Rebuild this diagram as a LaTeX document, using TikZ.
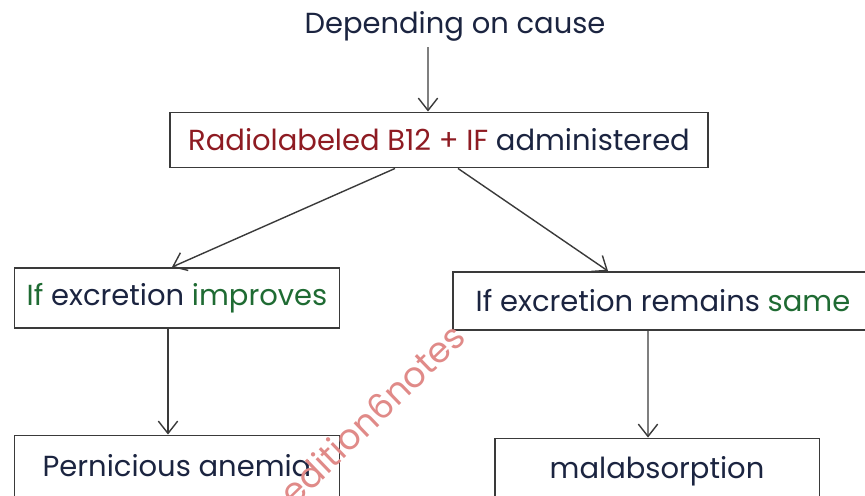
\documentclass[tikz,border=0pt]{standalone}
\usepackage{fontspec}
\setmainfont{Poppins}
\usetikzlibrary{arrows.meta}

\definecolor{ink}{HTML}{1B2440}
\definecolor{redink}{HTML}{8E1B22}
\definecolor{greenink}{HTML}{1F6B33}
\definecolor{boxline}{HTML}{3A3A3A}
\definecolor{stamp}{HTML}{E08A88}

\tikzset{
	box/.style={ draw=boxline, line width=1.1pt, text=ink, inner sep=0pt, font=\fontsize{16.5}{19}\selectfont },
	arr/.style={ draw=boxline, line width=0.8pt, -{Straight Barb[length=7pt,width=11pt]} }
}

\begin{document}
\begin{tikzpicture}[ x=0.02cm, y=-0.02cm ]

	\useasboundingbox (0, 0) rectangle (865, 495);
	\clip (0, 0) rectangle (865, 495);
	
	\node[ text=ink, font=\fontsize{16.5}{19}\selectfont ] (cause) at (455, 26) {Depending on cause};
	
	\node[ box, minimum width=10.76cm, minimum height=1.1cm ] (given) at (439, 140)
		{\textcolor{redink}{Radiolabeled B12 + IF} administered};
	
	\node[ box, minimum width=6.5cm, minimum height=1.2cm ] (improves) at (177, 298)
		{\textcolor{greenink}{If} excretion \textcolor{greenink}{improves}};
	\node[ box, minimum width=8.4cm, minimum height=1.16cm ] (same) at (663, 301)
		{If excretion remains \textcolor{greenink}{same}};
	
	\node[ box, minimum width=6.5cm, minimum height=1.3cm ] (pa) at (177, 468)
		{\raisebox{3pt}{Pernicious anemia}};
	\node[ box, minimum width=6.5cm, minimum height=1.3cm ] (malabs) at (657, 471)
		{\raisebox{3pt}{malabsorption}};
	
	\draw[ arr ] ([xshift=-0.54cm]cause.south) -- ([xshift=-0.22cm]given.north);
	\draw[ arr ] ([xshift=-0.88cm]given.south) -- ([xshift=-0.1cm]improves.north);
	\draw[ arr ] ([xshift=0.38cm]given.south) -- ([xshift=-1.1cm]same.north);
	\draw[ arr ] ([xshift=-0.18cm]improves.south) -- ([xshift=-0.18cm]pa.north);
	\draw[ arr ] ([xshift=-0.3cm]same.south) -- ([xshift=-0.18cm]malabs.north);
	
	% stamp across the lower middle
	\node[ text=stamp, rotate=44, font=\fontsize{20}{24}\selectfont ] (stamp) at (372, 414) {edition6notes};

\end{tikzpicture}
\end{document}
